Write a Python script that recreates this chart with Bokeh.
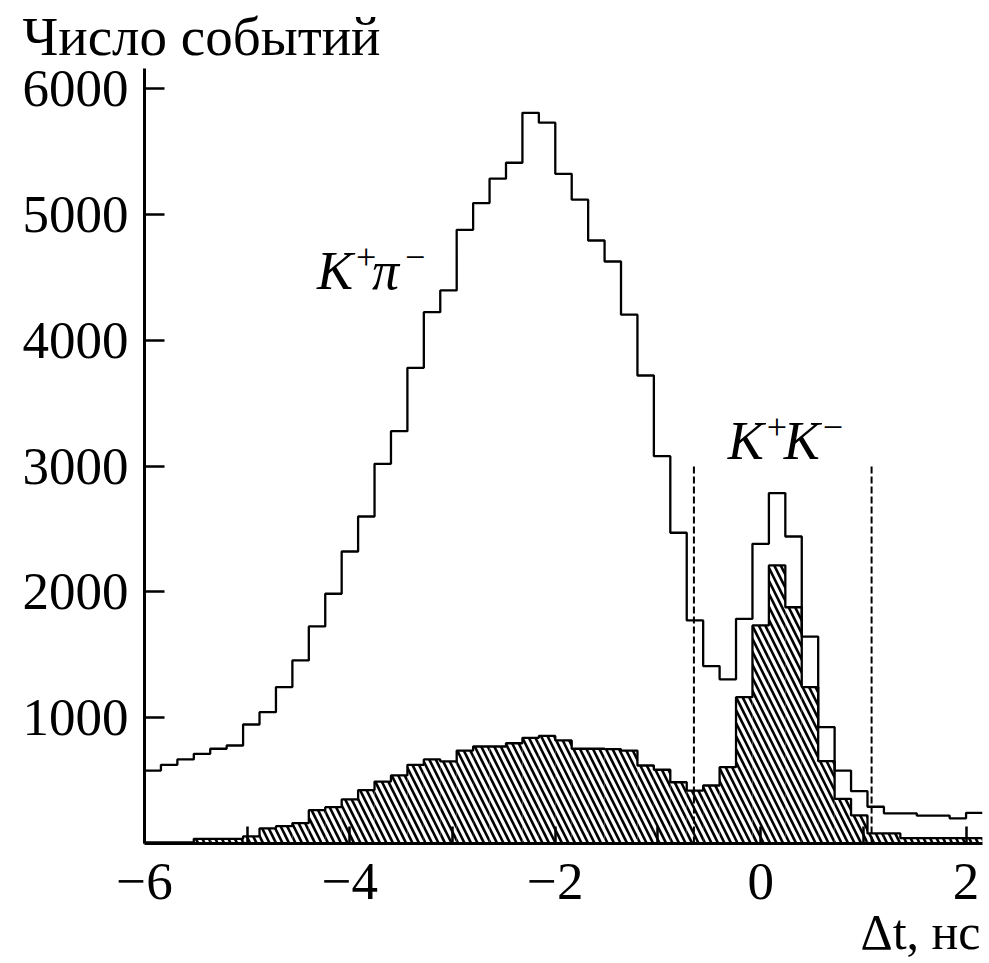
from bokeh.plotting import figure
from bokeh.models import Range1d, FixedTicker, Label, Title
from bokeh.embed import file_html
from bokeh.resources import INLINE

# Binning of the time-difference histogram: 0.16 ns bins starting at -6 ns
bin_start = -6.0
bin_width = 0.16

# All K+π- candidates (open histogram), events per bin
counts_all = [580, 625, 668, 713, 753, 779, 946, 1044, 1243, 1455,
              1725, 1985, 2321, 2599, 3018, 3277, 3781, 4223, 4396, 4878,
              5090, 5284, 5411, 5808, 5729, 5323, 5117, 4793, 4626, 4203,
              3720, 3079, 2470, 1773, 1410, 1305, 1786, 2382, 2785, 2440,
              1645, 925, 580, 416, 292, 240, 240, 222, 222, 200, 244]

# Selected events (hatched histogram), events per bin
counts_sel = [8, 8, 8, 37, 37, 37, 56, 120, 138, 162,
              265, 289, 350, 425, 492, 541, 625, 668, 652, 739,
              771, 771, 797, 840, 855, 819, 753, 753, 750, 739,
              620, 586, 487, 421, 461, 607, 1163, 1733, 2210, 1878,
              1243, 654, 355, 223, 80, 80, 42, 42, 42, 42, 42]

# K+K- selection window (dashed lines)
window_t = [-0.65, 1.08]
window_top = 3000

x_ticks = [-6, -4, -2, 0, 2]
x_minor = [-5, -3, -1, 1]
x_tick_text = {-6: "\u22126", -4: "\u22124", -2: "\u22122", 0: "0", 2: "2"}
y_ticks = [1000, 2000, 3000, 4000, 5000, 6000]

n_bins = len(counts_all)
edges = [bin_start + bin_width * k for k in range(n_bins + 1)]

SERIF = "Liberation Serif"

p = figure(width=989, height=963,
           x_range=Range1d(-6, edges[-1]), y_range=Range1d(0, 6160),
           output_backend="svg", toolbar_location=None,
           min_border_left=144, min_border_right=7,
           min_border_top=68, min_border_bottom=120)
p.outline_line_color = None
p.xgrid.visible = False
p.ygrid.visible = False
p.background_fill_color = "white"
p.border_fill_color = "white"

# y-axis caption, placed above the top-left corner
p.title.text = "Число событий"
p.title.align = "left"
p.title.offset = -122
p.title.standoff = 3
p.title.text_font = SERIF
p.title.text_font_size = "55px"
p.title.text_font_style = "normal"
p.title.text_color = "black"

# x-axis caption, right-aligned under the axis
p.add_layout(Title(text="\u0394t, нс", align="right", offset=2, standoff=0,
                   text_font=SERIF, text_font_size="50px",
                   text_font_style="normal", text_color="black"), "below")

# hatched area of the selected events
p.quad(left=edges[:-1], right=edges[1:], bottom=0, top=counts_sel,
       fill_color=None, line_color=None,
       hatch_pattern="\\", hatch_scale=13, hatch_weight=2.6,
       hatch_color="black")

# outlines of both histograms
p.step(x=edges, y=counts_all + [counts_all[-1]], mode="after",
       line_color="black", line_width=2.3)
p.step(x=edges, y=counts_sel + [counts_sel[-1]], mode="after",
       line_color="black", line_width=2.3)

# selection window
p.segment(x0=window_t, y0=[0, 0], x1=window_t, y1=[window_top, window_top],
          line_color="black", line_width=2, line_dash="7 3")

# axes
for ax in (p.xaxis, p.yaxis):
    ax.axis_line_width = 3
    ax.axis_line_color = "black"
    ax.major_tick_line_width = 2.5
    ax.major_tick_line_color = "black"
    ax.major_tick_out = 0
    ax.minor_tick_out = 0
    ax.major_label_text_font = SERIF
    ax.major_label_text_color = "black"
    ax.major_label_text_font_size = "53px"

xax = p.below[0]
xax.ticker = FixedTicker(ticks=x_ticks, minor_ticks=x_minor)
xax.major_label_overrides = x_tick_text
xax.major_tick_in = 17
xax.minor_tick_in = 17
xax.minor_tick_line_width = 2.5
xax.minor_tick_line_color = "black"
xax.major_label_standoff = 20

yax = p.left[0]
yax.ticker = FixedTicker(ticks=y_ticks)
yax.major_tick_in = 20
yax.minor_tick_line_color = None
yax.major_label_standoff = 16


def add_text(x, y, text, size, dx=0, dy=0, italic=False):
    p.add_layout(Label(x=x, y=y, x_offset=dx, y_offset=dy, text=text,
                       text_font=SERIF, text_font_size=size,
                       text_font_style="italic" if italic else "normal",
                       text_color="black", text_align="left",
                       text_baseline="alphabetic"))


# channel labels
add_text(-4.32, 4550, "K", "54px", italic=True)
add_text(-4.32, 4550, "+", "36px", dx=39, dy=14)
add_text(-4.32, 4550, "\u03c0", "54px", dx=55, italic=True)
add_text(-4.32, 4550, "\u2212", "36px", dx=88, dy=14)

add_text(-0.32, 3200, "K", "54px", italic=True)
add_text(-0.32, 3200, "+", "36px", dx=39, dy=14)
add_text(-0.32, 3200, "K", "54px", dx=56, italic=True)
add_text(-0.32, 3200, "\u2212", "36px", dx=95, dy=14)

open("out.html", "w").write(file_html(p, INLINE))
